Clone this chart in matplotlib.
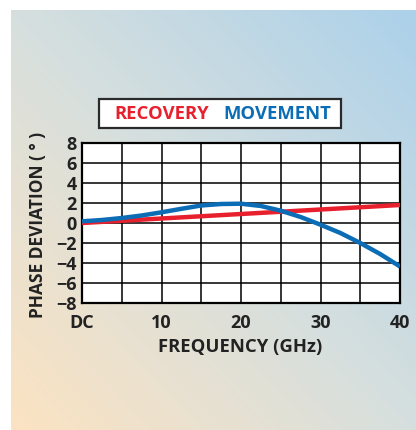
import numpy as np
import matplotlib
matplotlib.use('Agg')
import matplotlib.pyplot as plt
from matplotlib.colors import LinearSegmentedColormap
from matplotlib.patches import Rectangle

# values
freq = [0, 2.5, 5, 7.5, 10, 12.5, 15, 17.5, 20, 22.5, 25, 27.5, 30, 32.5, 35, 37.5, 40]
movement = [0.17, 0.3, 0.5, 0.75, 1.07, 1.42, 1.75, 1.9, 1.93, 1.7, 1.23, 0.6,
            -0.17, -1.0, -2.0, -3.1, -4.35]
recovery_freq = [0, 40]
recovery = [0.0, 1.8]

x_ticks = [0, 10, 20, 30, 40]
x_tick_labels = ['DC', '10', '20', '30', '40']
y_ticks = [-8, -6, -4, -2, 0, 2, 4, 6, 8]

RED = '#e8202e'
BLUE = '#0b6db5'

plt.rcParams['font.family'] = ['Open Sans', 'DejaVu Sans']
plt.rcParams['font.weight'] = 'bold'

W, H = 416, 430
fig = plt.figure(figsize=(W / 100, H / 100), dpi=100)

# gradient background (peach bottom-left -> grey -> blue top-right)
bg = fig.add_axes([11 / W, 0, 1 - 11 / W, 1 - 10 / H], zorder=-5)
u = np.linspace(0, 1, 300)
v = np.linspace(1, 0, 300)
uu, vv = np.meshgrid(u, v)
t = (uu + vv) / 2
cmap = LinearSegmentedColormap.from_list('bg', ['#fce3c2', '#d6dfde', '#acd1ea'])
bg.imshow(t, cmap=cmap, aspect='auto', extent=[0, 1, 0, 1], vmin=0, vmax=1)
bg.axis('off')

ax = fig.add_axes([82 / W, 1 - 303 / H, 318 / W, 160 / H])
ax.set_facecolor('white')
ax.plot(recovery_freq, recovery, color=RED, lw=3.2, solid_capstyle='butt', zorder=3)
ax.plot(freq, movement, color=BLUE, lw=3.2, solid_joinstyle='round',
        solid_capstyle='butt', zorder=4)

ax.set_xlim(0, 40)
ax.set_ylim(-8, 8)
ax.set_xticks(range(0, 41, 5), minor=True)
ax.set_xticks(x_ticks)
ax.set_xticklabels(x_tick_labels)
ax.set_yticks(y_ticks)
ax.grid(True, which='both', color='black', lw=1.1)
ax.set_axisbelow(True)
ax.tick_params(which='both', length=0)
ax.tick_params(axis='x', pad=8, labelsize=13, colors='#222222')
ax.tick_params(axis='y', pad=4, labelsize=13, colors='#222222')
for lab in ax.get_xticklabels() + ax.get_yticklabels():
    lab.set_fontweight('bold')
for s in ax.spines.values():
    s.set_linewidth(1.6)
    s.set_color('black')

fig.text(38 / W, 1 - 225 / H, 'PHASE DEVIATION ( ° )', rotation=90, ha='center',
         va='center', fontsize=12.5, fontweight='bold', color='#222222')
fig.text(240 / W, 1 - 347 / H, 'FREQUENCY (GHz)', ha='center', va='center',
         fontsize=13.3, fontweight='bold', color='#222222')

# legend box
fig.patches.append(Rectangle((99 / W, 1 - 128 / H), 242 / W, 29 / H,
                             transform=fig.transFigure, facecolor='white',
                             edgecolor='#2a2a2a', lw=1.6, zorder=2))
fig.text(162 / W, 1 - 114 / H, 'RECOVERY', ha='center', va='center',
         fontsize=13.3, fontweight='bold', color=RED, zorder=3)
fig.text(277 / W, 1 - 114 / H, 'MOVEMENT', ha='center', va='center',
         fontsize=13.3, fontweight='bold', color=BLUE, zorder=3)

fig.savefig('out.png', dpi=100, facecolor='white')
